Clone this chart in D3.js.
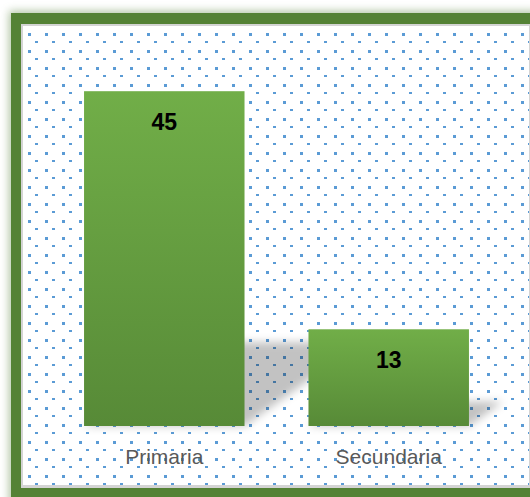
<!DOCTYPE html>
<html>
<head>
<meta charset="utf-8">
<script src="https://cdn.jsdelivr.net/npm/d3@7"></script>
<style>
  html, body { margin: 0; padding: 0; background: #ffffff; }
  svg { display: block; }
</style>
</head>
<body>
<script>
const categories = ["Primaria", "Secundaria"];
const values = [45, 13];
const valueLabels = ["45", "13"];

const W = 530, H = 497;
const svg = d3.select("body").append("svg").attr("width", W).attr("height", H);
const defs = svg.append("defs");

// dotted pattern
const pat = defs.append("pattern").attr("id", "dots")
  .attr("patternUnits", "userSpaceOnUse")
  .attr("x", 28).attr("y", 33).attr("width", 17).attr("height", 17);
pat.append("rect").attr("x", 0).attr("y", 0).attr("width", 3).attr("height", 3).attr("fill", "#5b9bd5");
pat.append("rect").attr("x", 7).attr("y", 8).attr("width", 3).attr("height", 2).attr("fill", "#5b9bd5");

// bar gradient
const grad = defs.append("linearGradient").attr("id", "barGrad")
  .attr("x1", 0).attr("y1", 0).attr("x2", 0).attr("y2", 1);
grad.append("stop").attr("offset", "0%").attr("stop-color", "#71ae48");
grad.append("stop").attr("offset", "100%").attr("stop-color", "#578a37");

// blur filters
defs.append("filter").attr("id", "glow").attr("x", -0.1).attr("y", -0.1).attr("width", 1.2).attr("height", 1.2)
  .append("feGaussianBlur").attr("stdDeviation", 4);
defs.append("filter").attr("id", "shadowBlur").attr("x", -0.3).attr("y", -0.3).attr("width", 1.6).attr("height", 1.6)
  .append("feGaussianBlur").attr("stdDeviation", 4);

// frame glow + frame
svg.append("rect").attr("x", 9).attr("y", 11).attr("width", 540).attr("height", 500)
  .attr("fill", "#6f9458").attr("opacity", 0.55).attr("filter", "url(#glow)");
svg.append("rect").attr("x", 11).attr("y", 13).attr("width", 540).attr("height", 500).attr("fill", "#548235");
svg.append("rect").attr("x", 21).attr("y", 24).attr("width", 520).attr("height", 464).attr("fill", "#d4d4d4");
svg.append("rect").attr("x", 23).attr("y", 26).attr("width", 506).attr("height", 459).attr("fill", "#ffffff");
svg.append("rect").attr("x", 23).attr("y", 26).attr("width", 506).attr("height", 459).attr("fill", "url(#dots)");

// scales
const x = d3.scaleBand().domain(categories).range([23, 530]).paddingInner(0.285).paddingOuter(0.272);
const y = d3.scaleLinear().domain([0, 50]).range([426, 54]);

const data = categories.map((c, i) => ({ c, v: values[i], label: valueLabels[i] }));

// perspective shadows
const shadowG = svg.append("g").attr("filter", "url(#shadowBlur)");
shadowG.selectAll("path").data(data).enter().append("path")
  .attr("d", d => {
    const x0 = x(d.c), x1 = x(d.c) + x.bandwidth();
    const b = y(0), h = y(0) - y(d.v);
    const hs = h * 0.25, dx = h * 0.35;
    return `M${x0},${b}L${x1},${b}L${x1 + dx},${b - hs}L${x0 + dx},${b - hs}Z`;
  })
  .attr("fill", "#000").attr("opacity", 0.24);

// bars
svg.selectAll("rect.bar").data(data).enter().append("rect").attr("class", "bar")
  .attr("x", d => x(d.c)).attr("y", d => y(d.v))
  .attr("width", x.bandwidth()).attr("height", d => y(0) - y(d.v))
  .attr("fill", "url(#barGrad)");

// value labels
svg.selectAll("text.val").data(data).enter().append("text").attr("class", "val")
  .attr("x", d => x(d.c) + x.bandwidth() / 2).attr("y", d => y(d.v) + 39)
  .attr("text-anchor", "middle")
  .attr("font-family", "'Liberation Sans', Arial, sans-serif")
  .attr("font-weight", "bold").attr("font-size", 23).attr("fill", "#000")
  .text(d => d.label);

// category axis
const axis = d3.axisBottom(x).tickSize(0).tickPadding(0);
const ag = svg.append("g").attr("transform", "translate(0,426)").call(axis);
ag.select(".domain").remove();
ag.selectAll("text")
  .attr("y", 38).attr("dy", 0)
  .attr("font-family", "'Liberation Sans', Arial, sans-serif")
  .attr("font-size", 21).attr("fill", "#595959");
</script>
</body>
</html>
